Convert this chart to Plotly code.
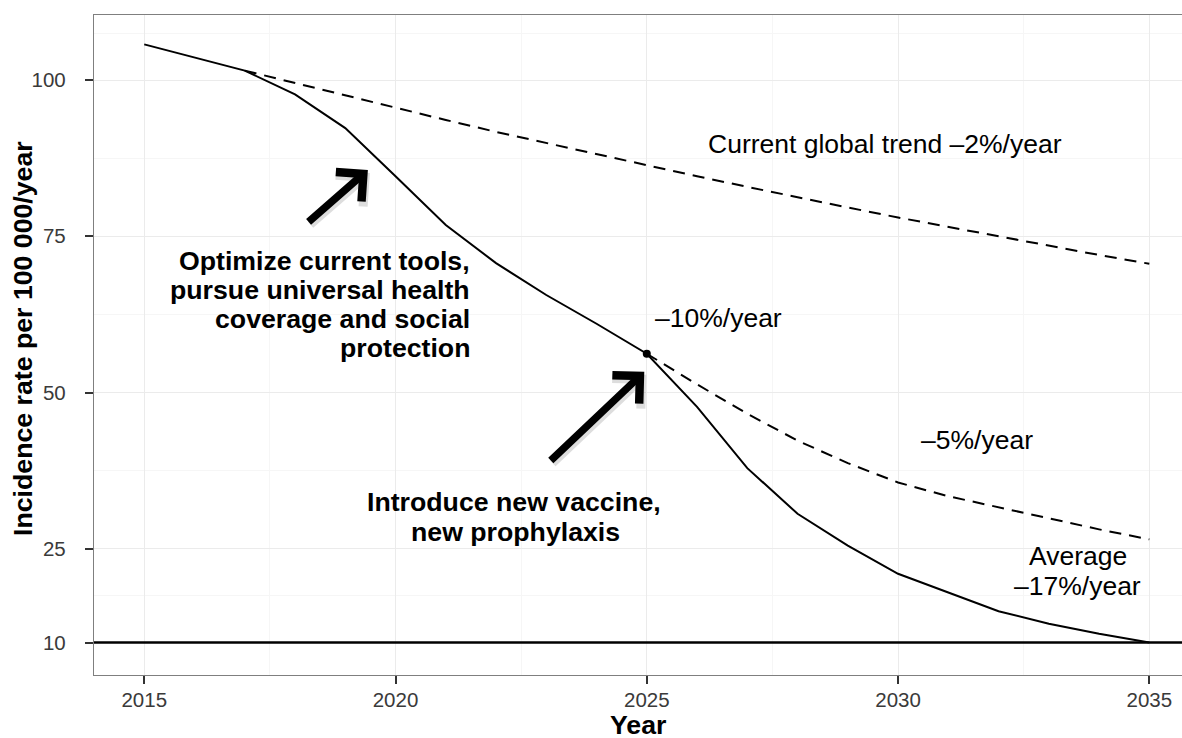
import plotly.graph_objects as go

# ---- data ----
years_solid = [2015, 2016, 2017, 2018, 2019, 2020, 2021, 2022, 2023, 2024, 2025,
               2026, 2027, 2028, 2029, 2030, 2031, 2032, 2033, 2034, 2035]
incidence_solid = [105.7, 103.6, 101.5, 97.7, 92.3, 84.6, 76.8, 70.7, 65.6, 61.0, 56.2,
                   47.7, 37.9, 30.6, 25.5, 21.0, 18.0, 15.0, 13.0, 11.4, 10.0]

years_trend = [2017, 2018, 2019, 2020, 2021, 2022, 2023, 2024, 2025, 2026,
               2027, 2028, 2029, 2030, 2031, 2032, 2033, 2034, 2035]
incidence_trend = [101.5, 99.5, 97.5, 95.5, 93.6, 91.7, 89.9, 88.1, 86.3, 84.6,
                   82.9, 81.2, 79.6, 78.0, 76.5, 74.9, 73.4, 72.0, 70.6]

years_5pct = [2025, 2026, 2027, 2028, 2029, 2030, 2031, 2032, 2033, 2034, 2035]
incidence_5pct = [56.2, 51.3, 46.6, 42.3, 38.7, 35.6, 33.4, 31.6, 29.8, 28.1, 26.5]

milestone_year = [2025]
milestone_value = [56.2]

target_level = 10

x_ticks = [2015, 2020, 2025, 2030, 2035]
x_minor = [2017.5, 2022.5, 2027.5, 2032.5]
y_ticks = [10, 25, 50, 75, 100]
y_minor = [17.5, 37.5, 62.5, 87.5, 107.5]

FONT = "Liberation Sans, Arial, Helvetica, sans-serif"

fig = go.Figure()

fig.add_trace(go.Scatter(x=years_trend, y=incidence_trend, mode="lines",
                         line=dict(color="black", width=2, dash="12px,8px"),
                         hoverinfo="skip", showlegend=False))
fig.add_trace(go.Scatter(x=years_5pct, y=incidence_5pct, mode="lines",
                         line=dict(color="black", width=2, dash="12px,8px"),
                         hoverinfo="skip", showlegend=False))
fig.add_trace(go.Scatter(x=years_solid, y=incidence_solid, mode="lines",
                         line=dict(color="black", width=2),
                         hoverinfo="skip", showlegend=False))
fig.add_trace(go.Scatter(x=milestone_year, y=milestone_value, mode="markers",
                         marker=dict(color="black", size=8),
                         hoverinfo="skip", showlegend=False))

fig.add_hline(y=target_level, line=dict(color="black", width=2.3), layer="above")

# text annotations
plain = dict(family=FONT, size=26.5, color="black")
bold = dict(family=FONT, size=26.7, color="black", weight="bold")

def txt(x, y, s, font, xanchor="center"):
    fig.add_annotation(x=x, y=y, xref="x", yref="y", text=s, showarrow=False,
                       font=font, xanchor=xanchor, yanchor="middle")

def py(px):
    # pixel row -> data value helper for label placement
    return 100 - (px - 80) / 6.252

def pxx(px):
    return 2015 + (px - 144) / 50.25

txt(pxx(884.5), py(144), "Current global trend \u20132%/year", plain)
txt(pxx(653), py(317.6), "\u201310%/year", plain, xanchor="left")
txt(pxx(977), py(440.2), "\u20135%/year", plain)
txt(pxx(1078), py(556.6), "Average", plain)
txt(pxx(1077.5), py(586.6), "\u201317%/year", plain)

opt_lines = ["Optimize current tools,", "pursue universal health",
             "coverage and social", "protection"]
for i, s in enumerate(opt_lines):
    txt(pxx(472), py(260.8 + 29 * i), s, bold, xanchor="right")

txt(pxx(514), py(501.7), "Introduce new vaccine,", bold)
txt(pxx(515), py(531.7), "new prophylaxis", bold)

# arrows (with soft shadow)
arrows = [((2019.45, 85.6), (2018.24, 77.1)),
          ((2024.95, 53.3), (2023.06, 38.9))]
for (tx, ty), (ax_, ay_) in arrows:
    fig.add_annotation(x=tx, y=ty, ax=ax_, ay=ay_, xref="x", yref="y", axref="x", ayref="y",
                       text="", showarrow=True, arrowhead=4, arrowsize=1, arrowwidth=8,
                       arrowcolor="rgba(0,0,0,0.13)", xshift=2, yshift=-3)
    fig.add_annotation(x=tx, y=ty, ax=ax_, ay=ay_, xref="x", yref="y", axref="x", ayref="y",
                       text="", showarrow=True, arrowhead=4, arrowsize=1, arrowwidth=7.5,
                       arrowcolor="black")

# axis titles as annotations for precise placement
fig.add_annotation(x=-0.0653, y=0.5106, xref="paper", yref="paper",
                   text="Incidence rate per 100 000/year", showarrow=False,
                   textangle=-90, font=bold, xanchor="center", yanchor="middle")
fig.add_annotation(x=0.5, y=-0.0758, xref="paper", yref="paper", text="Year",
                   showarrow=False, font=bold, xanchor="center", yanchor="middle")

axis_common = dict(showline=True, linecolor="#7F7F7F", linewidth=1.3,
                   ticks="outside", ticklen=8, tickwidth=1.5, tickcolor="#333333",
                   showgrid=True, gridcolor="#EBEBEB", gridwidth=1.3, zeroline=False,
                   tickfont=dict(family=FONT, size=20.5, color="#3A3A3A"))

fig.update_xaxes(range=[2014.0, 2035.65], tickvals=x_ticks, mirror=True,
                 minor=dict(tickvals=x_minor, showgrid=True, gridcolor="#F6F6F6",
                            gridwidth=1.3, ticks=""),
                 ticklabelstandoff=-2, **axis_common)
fig.update_yaxes(range=[4.8, 110.4], tickvals=y_ticks, mirror=False,
                 minor=dict(tickvals=y_minor, showgrid=True, gridcolor="#F6F6F6",
                            gridwidth=1.3, ticks=""),
                 ticklabelstandoff=15, **axis_common)

fig.update_layout(width=1182, height=738, plot_bgcolor="white", paper_bgcolor="white",
                  margin=dict(l=94, r=0, t=15, b=63), showlegend=False,
                  font=dict(family=FONT))

# remove the default page margin so the figure fills the window exactly
fig.write_html("out.html", config={"displayModeBar": False},
               post_script="document.body.style.margin='0';document.body.style.overflow='hidden';")
